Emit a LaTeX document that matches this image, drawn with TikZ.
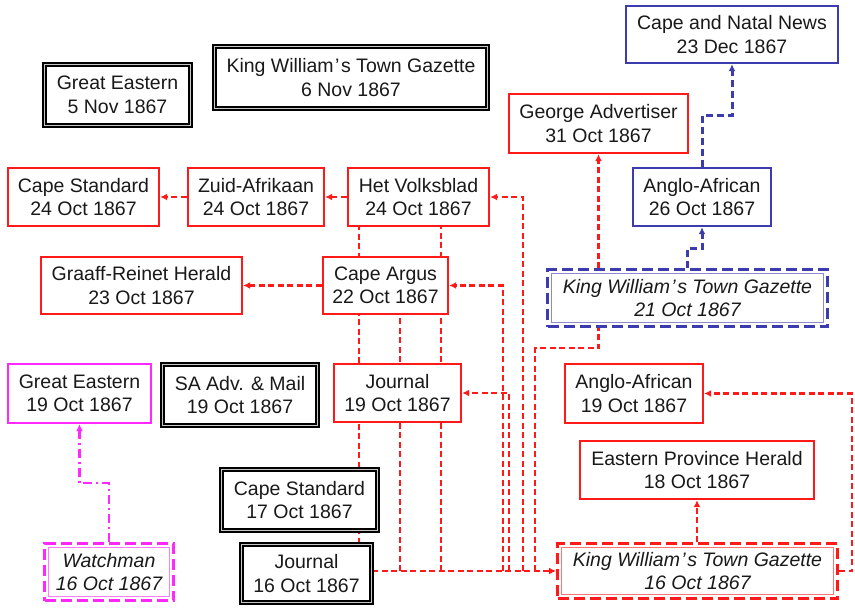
\documentclass[tikz,border=0pt]{standalone}
\usepackage{fontspec}
\setmainfont{Liberation Sans}
\usetikzlibrary{arrows.meta,backgrounds}
\definecolor{cred}{RGB}{255,25,25}
\definecolor{cblue}{RGB}{60,60,175}
\definecolor{cmag}{RGB}{255,40,255}
\definecolor{ctext}{RGB}{25,25,25}
\newcommand{\kws}{King William\kern1.5pt’\kern1.5pt s Town Gazette}
\begin{document}
\begin{tikzpicture}[x=1pt,y=-1pt,
 box/.style={fill=white, text=ctext, align=center, font=\fontsize{19.5}{23.5}\selectfont, inner sep=0pt},
 redbox/.style={box, draw=cred, line width=2.4pt},
 bluebox/.style={box, draw=cblue, line width=2.4pt},
 magbox/.style={box, draw=cmag, line width=2.4pt},
 blkbox/.style={box, draw=black, line width=1.8pt, double=gray!45, double distance=1.5pt},
 dbox/.style={box, font=\fontsize{19.5}{23.5}\selectfont\itshape, draw=#1, line width=3pt, dash pattern=on 11pt off 5pt,
   path picture={\draw[#1!60, line width=0.9pt, solid] ([shift={(3.8pt,3.8pt)}]path picture bounding box.south west) rectangle ([shift={(-3.8pt,-3.8pt)}]path picture bounding box.north east);}},
 conn/.style={draw=cred, line width=2.2pt, dash pattern=on 6pt off 3.5pt},
 bconn/.style={draw=cblue, line width=3pt, dash pattern=on 7pt off 4pt},
 mconn/.style={draw=cmag, line width=2.1pt, dash pattern=on 9pt off 4pt on 2pt off 4pt},
 arr/.style={-{Latex[length=7pt,width=7pt]}}
]
\useasboundingbox (0,0) rectangle (855,608);

\node[blkbox, minimum width=146, minimum height=61] (ge5) at (117.5,95) {Great Eastern\\5 Nov 1867};
\node[blkbox, minimum width=273, minimum height=62] (kw6) at (351,77.5) {\kws\\6 Nov 1867};
\node[bluebox, minimum width=212, minimum height=57] (cnn) at (732,34.5) {Cape and Natal News\\23 Dec 1867};
\node[redbox, minimum width=179, minimum height=59] (ga) at (598.5,123.5) {George Advertiser\\31 Oct 1867};
\node[redbox, minimum width=151, minimum height=58] (cs24) at (83.5,197) {Cape Standard\\24 Oct 1867};
\node[redbox, minimum width=136, minimum height=58] (za) at (256,197) {Zuid-Afrikaan\\24 Oct 1867};
\node[redbox, minimum width=141, minimum height=58] (hv) at (418.5,197) {Het Volksblad\\24 Oct 1867};
\node[bluebox, minimum width=138, minimum height=58] (aa26) at (702,197) {Anglo-African\\26 Oct 1867};
\node[redbox, minimum width=201, minimum height=57] (grh) at (141.5,285.5) {Graaff-Reinet Herald\\23 Oct 1867};
\node[redbox, minimum width=125, minimum height=57] (ca) at (385.5,285.5) {Cape Argus\\22 Oct 1867};
\node[dbox=cblue, minimum width=280, minimum height=57] (kw21) at (687.5,298) {\kws\\21 Oct 1867};
\node[magbox, minimum width=143, minimum height=59] (ge19) at (79.5,393.5) {Great Eastern\\19 Oct 1867};
\node[blkbox, minimum width=155, minimum height=61] (sa) at (240,395) {SA Adv. \& Mail\\19 Oct 1867};
\node[redbox, minimum width=127, minimum height=58] (j19) at (397.5,393) {Journal\\19 Oct 1867};
\node[redbox, minimum width=138, minimum height=59] (aa19) at (634,393.5) {Anglo-African\\19 Oct 1867};
\node[redbox, minimum width=234, minimum height=58] (eph) at (697,470) {Eastern Province Herald\\18 Oct 1867};
\node[blkbox, minimum width=156, minimum height=61] (cs17) at (299.5,500) {Cape Standard\\17 Oct 1867};
\node[dbox=cmag, minimum width=129, minimum height=57] (wm) at (109,572) {Watchman\\16 Oct 1867};
\node[blkbox, minimum width=130, minimum height=58] (j16) at (306.5,573.5) {Journal\\16 Oct 1867};
\node[dbox=cred, minimum width=280, minimum height=55] (kw16) at (697.5,571) {\kws\\16 Oct 1867};

\coordinate (v359) at (359,0);
\coordinate (v400) at (400,0);
\coordinate (v441) at (441,0);
\coordinate (v503) at (503,0);
\coordinate (v509) at (509,0);
\coordinate (v523) at (523,0);
\coordinate (v535) at (535,0);
\coordinate (h348) at (0,348);
\coordinate (rgt) at (852,571);

\begin{pgfonlayer}{background}
\fill[white] (0,0) rectangle (855,608);
\draw[conn, arr] (za.west) -- (cs24.east);
\draw[conn, arr] (hv.west) -- (za.east);
\draw[conn, arr] (ca.west) -- (grh.east);
\draw[conn, arr] (ga.south |- kw21.north) -- (ga.south);
\draw[bconn, arr] (kw21.north) -- ++(0,-20) -| (aa26.south);
\draw[bconn, arr] (aa26.north) -- ++(0,-51) -| (cnn.south);
\draw[mconn, arr] (wm.north) -- ++(0,-59) -| (ge19.south);
\draw[conn, arr] (eph.south |- kw16.north) -- (eph.south);
\draw[conn, arr] (kw16.east) -- (rgt) |- (aa19.east);
\draw[conn, arr] (j16.east |- kw16.west) -- (kw16.west);
\draw[conn] (v359 |- j16.north) -- (v359 |- hv.south);
\draw[conn] (v400 |- kw16.west) -- (v400 |- ca.south);
\draw[conn] (v441 |- kw16.west) -- (v441 |- hv.south);
\draw[conn, arr] (v503 |- kw16.west) |- (ca.east);
\draw[conn, arr] (v509 |- kw16.west) |- (j19.east);
\draw[conn, arr] (v523 |- kw16.west) |- (hv.east);
\draw[conn] (v535 |- kw16.west) -- (v535 |- h348) -| (ga.south |- kw21.south);
\end{pgfonlayer}
\end{tikzpicture}
\end{document}
